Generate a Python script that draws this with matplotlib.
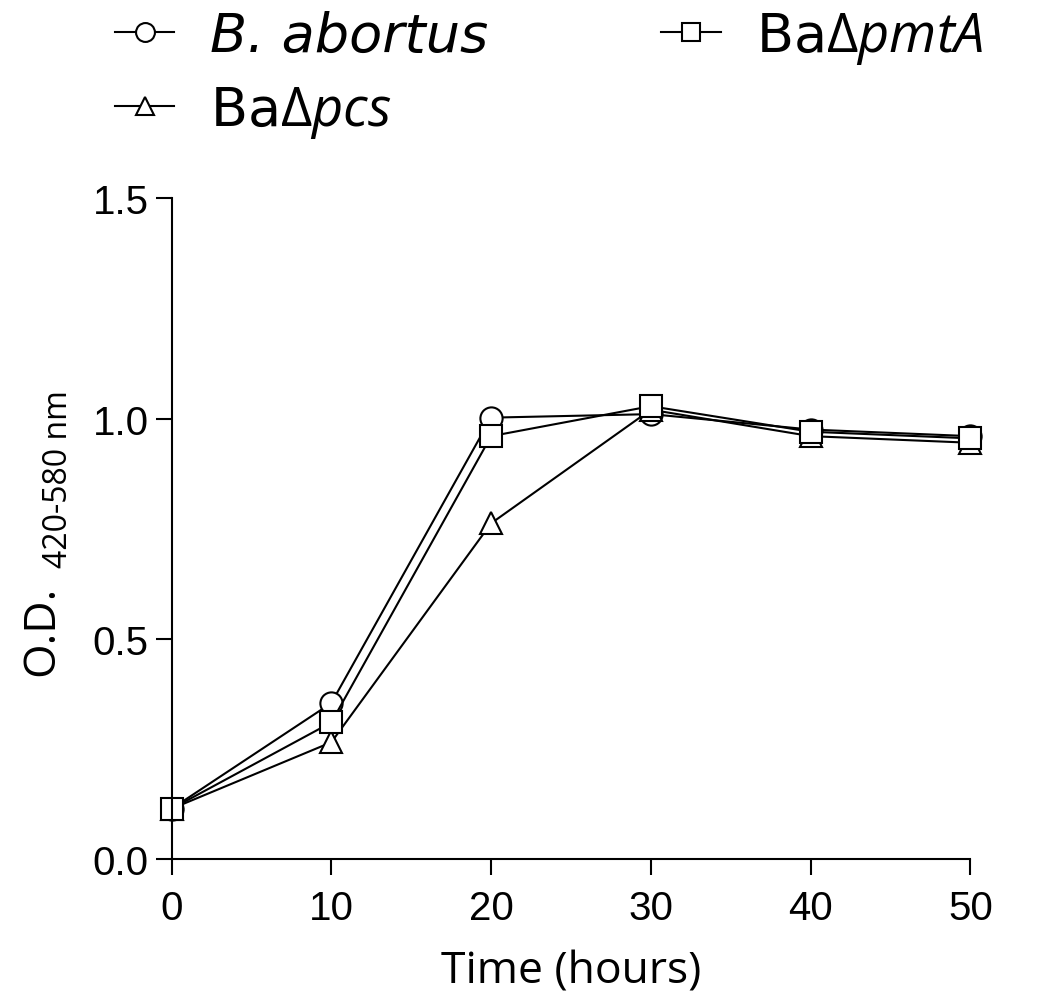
import matplotlib
matplotlib.use("Agg")
import matplotlib.pyplot as plt
from matplotlib.ticker import FormatStrFormatter

# growth curves, O.D. readings per time point
hours = [0, 10, 20, 30, 40, 50]
od_abortus = [0.114, 0.354, 1.002, 1.010, 0.975, 0.960]
od_pcs = [0.114, 0.265, 0.762, 1.020, 0.960, 0.945]
od_pmtA = [0.114, 0.310, 0.960, 1.028, 0.970, 0.955]

labels = ["B. abortus", r"Ba$\Delta\mathit{pcs}$", r"Ba$\Delta\mathit{pmtA}$"]
markers = ["o", "^", "s"]

plt.rcParams["mathtext.fontset"] = "custom"
plt.rcParams["mathtext.rm"] = "Open Sans"
plt.rcParams["mathtext.it"] = "Open Sans:italic"
plt.rcParams["mathtext.fallback"] = "stixsans"

fig = plt.figure(figsize=(10.4, 9.95), dpi=100)
ax = fig.add_axes([0.165, 0.1357, 0.768, 0.664])

for y, m, lab in zip([od_abortus, od_pcs, od_pmtA], markers, labels):
    ax.plot(hours, y, color="black", lw=1.5, marker=m, markersize=16,
            markerfacecolor="white", markeredgecolor="black", markeredgewidth=1.5,
            label=lab, clip_on=False)

ax.set_xlim(0, 50)
ax.set_ylim(0, 1.5)
ax.set_xticks(hours)
ax.set_yticks([0, 0.5, 1.0, 1.5])
ax.yaxis.set_major_formatter(FormatStrFormatter("%.1f"))
for s in ["top", "right"]:
    ax.spines[s].set_visible(False)
for s in ["left", "bottom"]:
    ax.spines[s].set_linewidth(1.5)
ax.tick_params(direction="out", length=11.5, width=1.5, labelsize=29, pad=5)
ax.tick_params(axis="x", pad=10)
for t in ax.get_xticklabels() + ax.get_yticklabels():
    t.set_fontfamily("Liberation Sans")

ax.set_xlabel("Time (hours)", fontsize=32, family="Open Sans", labelpad=16)
fig.text(0.04, 0.366, "O.D.", rotation=90, fontsize=32, family="Open Sans",
         ha="center", va="center")
fig.text(0.056, 0.519, "420-580 nm", rotation=90, fontsize=23, family="Open Sans",
         ha="center", va="center")

leg = fig.legend(loc="upper left", bbox_to_anchor=(0.074, 1.027), ncol=2, frameon=False,
                 fontsize=39, handlelength=1.1, markerscale=0.85, columnspacing=3.2,
                 labelspacing=0.4, handletextpad=0.65, borderpad=0.2)
leg.get_texts()[0].set_fontstyle("italic")

fig.savefig("out.png", dpi=100)
